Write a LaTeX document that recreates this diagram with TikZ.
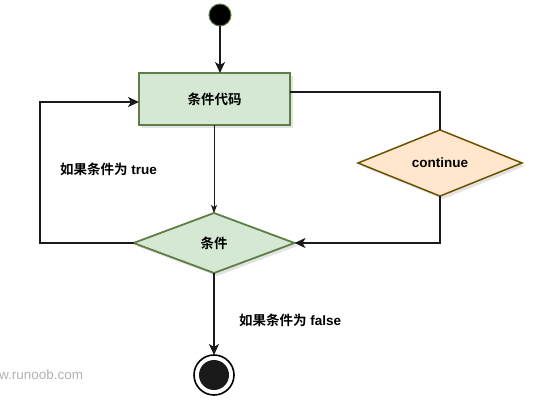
\documentclass[tikz,border=0pt]{standalone}
\usepackage{fontspec}
\setmainfont{Liberation Sans}
\newfontfamily\cjk{Noto Sans CJK SC}[BoldFont={Noto Sans CJK SC Bold}]
\usetikzlibrary{shapes.geometric,arrows.meta,shadows}
\definecolor{gfill}{HTML}{D5E8D4}
\definecolor{gline}{HTML}{5E7E46}
\definecolor{ofill}{HTML}{FFE6CC}
\definecolor{oline}{HTML}{6B5200}
\definecolor{ink}{HTML}{1A1A1A}
\tikzset{
  shad/.style={drop shadow={shadow xshift=3pt,shadow yshift=-3pt,fill=black!18,opacity=0.6}},
  tfont/.style={font=\bfseries\fontsize{13.5}{15}\selectfont},
  gbox/.style={rectangle,draw=gline,fill=gfill,line width=1.8pt,minimum width=151pt,minimum height=52pt,outer sep=0pt,shad,tfont},
  gdia/.style={diamond,draw=gline,fill=gfill,line width=1.8pt,minimum width=161pt,minimum height=60pt,inner sep=0pt,outer sep=0pt,shad,tfont},
  odia/.style={diamond,draw=oline,fill=ofill,line width=1.5pt,minimum width=164pt,minimum height=60pt,inner sep=0pt,outer sep=0pt,shad,tfont},
  conn/.style={draw=ink,line width=1.6pt,-{Stealth[length=11pt,width=10pt,inset=3pt]}},
  plain/.style={draw=ink,line width=1.6pt},
  thinconn/.style={draw=ink,line width=0.8pt,-{Stealth[length=8pt,width=6pt,inset=2pt]}},
  lab/.style={tfont,inner sep=0pt,anchor=west},
}
\begin{document}
\begin{tikzpicture}[x=1pt,y=-1pt]
\useasboundingbox (0,0) rectangle (535,400);
\node[circle,fill=black,draw=gline,line width=1pt,minimum size=22pt,inner sep=0pt,outer sep=0pt] (start) at (220,15) {};
\node[gbox] (code) at (214.5,99) {\cjk 条件代码};
\node[gdia] (cond) at (214,243) {\cjk 条件};
\node[odia] (cont) at (440,163) {continue};
\node[circle,draw=black,line width=1.6pt,fill=white,minimum size=40pt,inner sep=0pt,outer sep=0pt] (end) at (214,375) {};
\node[circle,fill=ink,minimum size=30pt,inner sep=0pt] (endin) at (end.center) {};
\coordinate (lb) at (40,243);
\coordinate (lt) at (40,102);
\coordinate (rt) at (440,92);
\coordinate (rb) at (440,243);
\draw[conn] (start) -- (start |- code.north);
\draw[thinconn] (code.south -| cond.north) -- (cond.north);
\draw[conn] (cond.west) -- (lb) -- (lt) -- (code.west |- lt);
\draw[plain] (code.east |- rt) -- (rt) -- (cont.north);
\draw[conn] (cont.south) -- (rb) -- (cond.east);
\draw[conn] (cond.south) -- (end.north);
\node[lab] (ltrue) at (60,169) {{\cjk 如果条件为} true};
\node[lab] (lfalse) at (239,320) {{\cjk 如果条件为} false};
\node[font=\fontsize{13.5}{15}\selectfont,text=black!30,inner sep=0pt,anchor=west] (wm) at (-1,375) {w.runoob.com};
\end{tikzpicture}
\end{document}
